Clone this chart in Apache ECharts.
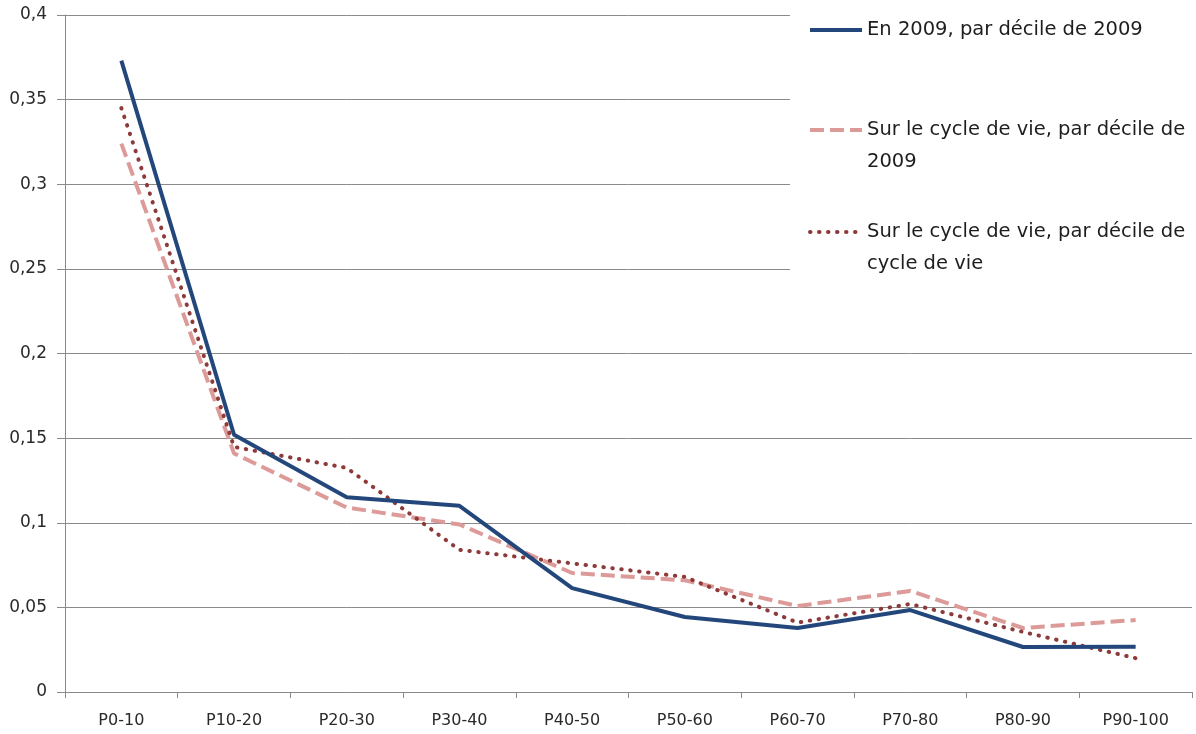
<!DOCTYPE html>
<html>
<head>
<meta charset="utf-8">
<script src="https://cdn.jsdelivr.net/npm/echarts@6/dist/echarts.min.js"></script>
<style>
  html, body { margin: 0; padding: 0; background: #fff; }
  #chart { width: 1196px; height: 734px; }
</style>
</head>
<body>
<div id="chart"></div>
<script>
var categories = ['P0-10', 'P10-20', 'P20-30', 'P30-40', 'P40-50', 'P50-60', 'P60-70', 'P70-80', 'P80-90', 'P90-100'];
var en2009 = [0.373, 0.152, 0.115, 0.110, 0.0614, 0.0443, 0.0378, 0.0484, 0.0266, 0.0268];
var cycleDecile2009 = [0.324, 0.141, 0.109, 0.099, 0.0703, 0.066, 0.0508, 0.0597, 0.0378, 0.0425];
var cycleDecileVie = [0.345, 0.1448, 0.1324, 0.084, 0.076, 0.068, 0.041, 0.052, 0.0355, 0.020];
var names = ['En 2009, par décile de 2009', 'Sur le cycle de vie, par décile de 2009', 'Sur le cycle de vie, par décile de cycle de vie'];

var font = 'DejaVu Sans';

// one legend box per series so each entry can sit where Excel put it
function legendBox(name, top) {
    return {
        data: [name],
        orient: 'vertical',
        left: 808,
        top: top,
        padding: 0,
        itemWidth: 52,
        itemHeight: 14,
        selectedMode: false,
        itemStyle: { opacity: 0 },
        lineStyle: { width: 4 },
        formatter: function (n) {
            // blank first line keeps the icon level with the first text line
            if (n === names[1]) return ' \nSur le cycle de vie, par décile de\n2009';
            if (n === names[2]) return ' \nSur le cycle de vie, par décile de\ncycle de vie';
            return n;
        },
        textStyle: {
            fontFamily: font,
            fontSize: 19.5,
            color: '#1e1e1e',
            lineHeight: 32
        }
    };
}

var chart = echarts.init(document.getElementById('chart'));
var option = {
    animation: false,
    backgroundColor: '#fff',
    grid: { left: 65, top: 15, right: 4, bottom: 42 },
    graphic: [{
        type: 'rect',
        z: 1,
        shape: { x: 790, y: 0, width: 406, height: 290 },
        style: { fill: '#fff' }
    }],
    legend: [
        legendBox(names[0], 14),
        legendBox(names[1], 82),
        legendBox(names[2], 184)
    ],
    xAxis: {
        type: 'category',
        data: categories,
        boundaryGap: true,
        axisLine: { lineStyle: { color: '#8a8a8a', width: 1 } },
        axisTick: { show: true, length: 6, lineStyle: { color: '#8a8a8a' } },
        axisLabel: { fontFamily: font, fontSize: 16, color: '#2a2a2a', margin: 21 }
    },
    yAxis: {
        type: 'value',
        min: 0,
        max: 0.4,
        interval: 0.05,
        axisLine: { show: true, lineStyle: { color: '#8a8a8a', width: 1 } },
        axisTick: { show: true, inside: false, length: 8, lineStyle: { color: '#8a8a8a' } },
        splitLine: { lineStyle: { color: '#8a8a8a', width: 1 } },
        axisLabel: {
            fontFamily: font, fontSize: 17, color: '#2a2a2a', margin: 18,
            formatter: function (v) { return String(+v.toFixed(2)).replace('.', ','); }
        }
    },
    series: [{
        name: names[0],
        type: 'line',
        symbol: 'none',
        data: en2009,
        z: 4,
        lineStyle: { color: '#24477b', width: 4 },
        itemStyle: { color: '#24477b' }
    }, {
        name: names[1],
        type: 'line',
        symbol: 'none',
        data: cycleDecile2009,
        z: 3,
        lineStyle: { color: '#dc9a98', width: 4, type: [14, 6] },
        itemStyle: { color: '#dc9a98' }
    }, {
        name: names[2],
        type: 'line',
        symbol: 'none',
        data: cycleDecileVie,
        z: 3,
        lineStyle: { color: '#8e3a3a', width: 4, type: [0.5, 8.5], cap: 'round' },
        itemStyle: { color: '#8e3a3a' }
    }]
};
chart.setOption(option);
</script>
</body>
</html>
